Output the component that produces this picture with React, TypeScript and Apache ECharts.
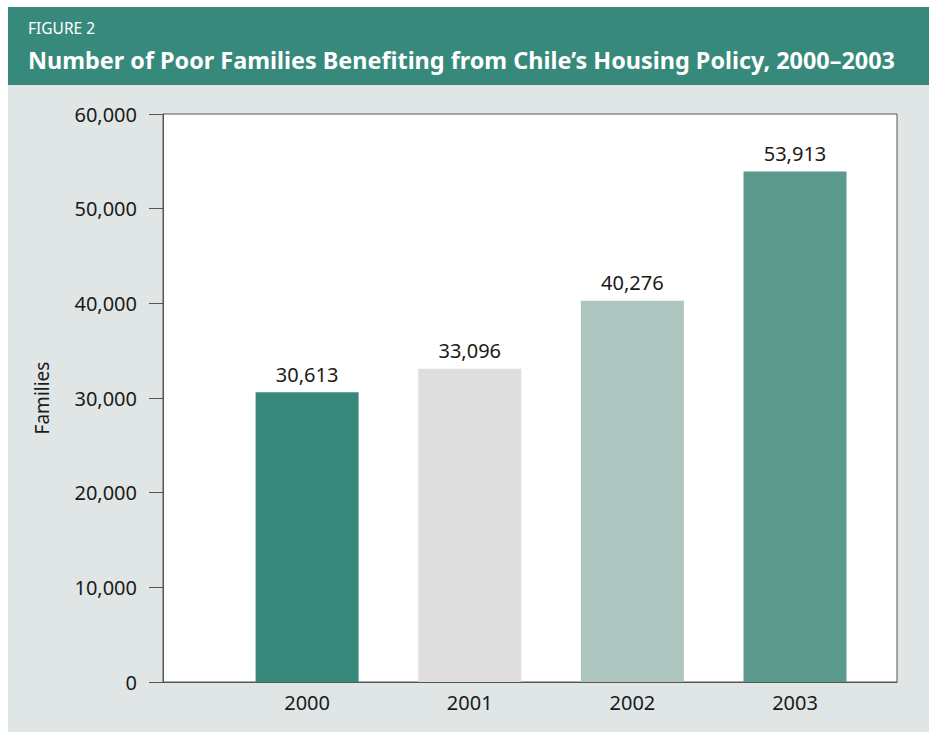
import React, { useEffect, useRef } from "react";
import * as echarts from "echarts";

const years = ["2000", "2001", "2002", "2003"];
const families = [30613, 33096, 40276, 53913];
const barColors = ["#378a7b", "#dedede", "#adc5be", "#5c998d"];
const yTicks = [0, 10000, 20000, 30000, 40000, 50000, 60000];
const figureLabel = "FIGURE 2";
const titleText = "Number of Poor Families Benefiting from Chile\u2019s Housing Policy, 2000\u20132003";
const yAxisName = "Families";

const FONT = "'Noto Sans', sans-serif";
const fmt = (v: number) => v.toLocaleString("en-US");

export default function App() {
  const ref = useRef<HTMLDivElement>(null);
  useEffect(() => {
    if (!ref.current) return;
    const chart = echarts.init(ref.current, undefined, { renderer: "svg" });
    const yearNums = years.map((y) => Number(y));
    chart.setOption({
      animation: false,
      backgroundColor: "#ffffff",
      textStyle: { fontFamily: FONT },
      graphic: [
        { type: "rect", z: -10, shape: { x: 8, y: 7, width: 921, height: 78 }, style: { fill: "#378a7b" } },
        { type: "rect", z: -10, shape: { x: 8, y: 85, width: 921, height: 647 }, style: { fill: "#e0e6e6" } },
        {
          type: "text",
          x: 28,
          y: 28,
          style: { text: figureLabel, fill: "#ffffff", font: `15.5px ${FONT}`, verticalAlign: "middle", align: "left" },
        },
        {
          type: "text",
          x: 28,
          y: 60,
          style: { text: titleText, fill: "#ffffff", font: `bold 23.4px ${FONT}`, verticalAlign: "middle", align: "left" },
        },
      ],
      grid: {
        left: 163,
        top: 114,
        right: 32,
        bottom: 52,
        show: true,
        backgroundColor: "#ffffff",
        borderColor: "#555555",
        borderWidth: 1,
      },
      xAxis: {
        type: "value",
        min: 1999.114,
        max: 2003.627,
        axisLine: { show: true, lineStyle: { color: "#555555", width: 1 } },
        axisTick: { show: false },
        splitLine: { show: false },
        axisLabel: {
          customValues: yearNums,
          formatter: (v: number) => String(Math.round(v)),
          color: "#1a1a1a",
          fontSize: 20,
          margin: 10,
          fontFamily: FONT,
        },
      },
      yAxis: {
        type: "value",
        min: yTicks[0],
        max: yTicks[yTicks.length - 1],
        interval: 10000,
        name: yAxisName,
        nameLocation: "middle",
        nameGap: 112,
        nameTextStyle: { color: "#1a1a1a", fontSize: 19, fontFamily: FONT },
        axisLine: { show: true, lineStyle: { color: "#555555", width: 1 } },
        axisTick: { show: true, length: 14, lineStyle: { color: "#555555" } },
        splitLine: { show: false },
        axisLabel: {
          formatter: (v: number) => fmt(v),
          color: "#1a1a1a",
          fontSize: 20,
          margin: 26,
          fontFamily: FONT,
        },
      },
      series: [
        {
          type: "bar",
          barWidth: 103,
          data: families.map((v, i) => ({
            value: [yearNums[i], v],
            itemStyle: { color: barColors[i] },
          })),
          label: {
            show: true,
            position: "top",
            distance: 8,
            color: "#1a1a1a",
            fontSize: 20,
            fontFamily: FONT,
            formatter: (p: any) => fmt(p.value[1]),
          },
        },
      ],
    });
    return () => chart.dispose();
  }, []);
  return (
    <div
      ref={ref}
      style={{ position: "absolute", left: 0, top: 0, width: 929, height: 734 }}
    />
  );
}
